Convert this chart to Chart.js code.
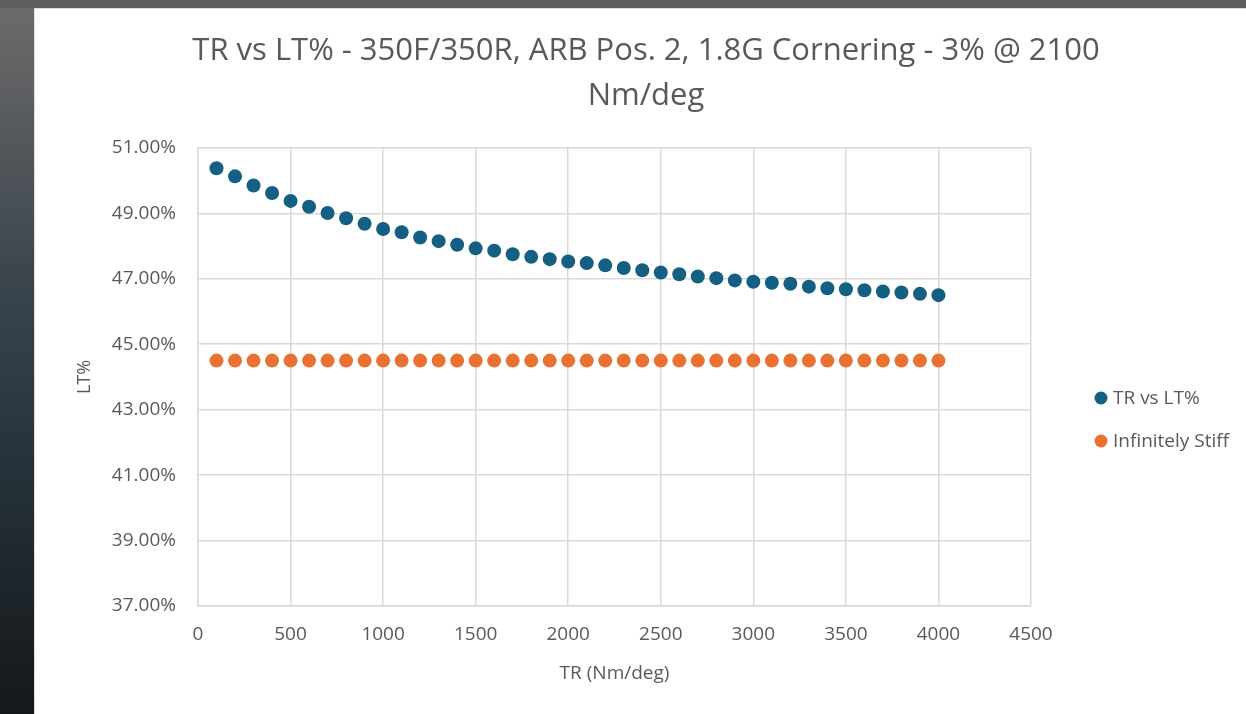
<!DOCTYPE html>
<html>
<head>
<meta charset="utf-8">
<script src="https://cdn.jsdelivr.net/npm/chart.js@4"></script>
<style>
  html, body { margin: 0; padding: 0; }
  body {
    width: 1246px; height: 714px; overflow: hidden; position: relative;
    background: linear-gradient(180deg, #6b6b6b 0%, #5e6062 12%, #3a444c 40%, #26323a 65%, #15181a 100%);
  }
  .topbar { position: absolute; left: 0; top: 0; width: 1246px; height: 8px; background: #5e5e5e; }
  .panel {
    position: absolute; left: 34px; top: 8px; width: 1212px; height: 706px;
    background: #fff; border-top: 1px solid #dcdcdc; border-left: 1px solid #dcdcdc; box-sizing: border-box;
  }
  .panel canvas { position: absolute; left: 0; top: 0; }
</style>
</head>
<body>
<div class="topbar"></div>
<div class="panel"><canvas id="chart" width="1212" height="706"></canvas></div>
<script>
// TR (Nm/deg)
const trValues = [100, 200, 300, 400, 500, 600, 700, 800, 900, 1000,
  1100, 1200, 1300, 1400, 1500, 1600, 1700, 1800, 1900, 2000,
  2100, 2200, 2300, 2400, 2500, 2600, 2700, 2800, 2900, 3000,
  3100, 3200, 3300, 3400, 3500, 3600, 3700, 3800, 3900, 4000];

// LT%
const ltValues = [50.38, 50.13, 49.85, 49.62, 49.38, 49.20, 49.01, 48.85, 48.68, 48.52,
  48.42, 48.26, 48.15, 48.04, 47.93, 47.86, 47.75, 47.67, 47.60, 47.53,
  47.48, 47.41, 47.33, 47.26, 47.19, 47.14, 47.07, 47.02, 46.95, 46.91,
  46.88, 46.85, 46.76, 46.71, 46.68, 46.65, 46.61, 46.58, 46.54, 46.50];

const stiffValues = [44.5, 44.5, 44.5, 44.5, 44.5, 44.5, 44.5, 44.5, 44.5, 44.5,
  44.5, 44.5, 44.5, 44.5, 44.5, 44.5, 44.5, 44.5, 44.5, 44.5,
  44.5, 44.5, 44.5, 44.5, 44.5, 44.5, 44.5, 44.5, 44.5, 44.5,
  44.5, 44.5, 44.5, 44.5, 44.5, 44.5, 44.5, 44.5, 44.5, 44.5];

const seriesNames = ['TR vs LT%', 'Infinitely Stiff'];
const titleLines = ['TR vs LT% - 350F/350R, ARB Pos. 2, 1.8G Cornering - 3% @ 2100', 'Nm/deg'];

const textColor = '#595959';
const gridColor = '#d9d9d9';
const fontFamily = "'Open Sans', 'Liberation Sans', sans-serif";

const toPoints = (ys) => trValues.map((x, i) => ({ x: x, y: ys[i] }));

// simple legend on the right, Excel style
const sideLegend = {
  id: 'sideLegend',
  afterDraw(chart) {
    const ctx = chart.ctx;
    ctx.save();
    ctx.font = '19px ' + fontFamily;
    ctx.textBaseline = 'middle';
    chart.data.datasets.forEach((ds, i) => {
      const y = 389 + i * 43;
      ctx.fillStyle = ds.backgroundColor;
      ctx.beginPath();
      ctx.arc(1066, y, 6.5, 0, Math.PI * 2);
      ctx.fill();
      ctx.fillStyle = textColor;
      ctx.fillText(ds.label, 1078, y + 1);
    });
    ctx.restore();
  }
};

const ctx = document.getElementById('chart').getContext('2d');
new Chart(ctx, {
  type: 'scatter',
  data: {
    datasets: [{
      label: seriesNames[0],
      data: toPoints(ltValues),
      backgroundColor: '#156082',
      borderColor: '#156082',
      pointRadius: 7,
      pointBorderWidth: 0
    }, {
      label: seriesNames[1],
      data: toPoints(stiffValues),
      backgroundColor: '#e97132',
      borderColor: '#e97132',
      pointRadius: 7,
      pointBorderWidth: 0
    }]
  },
  options: {
    responsive: false,
    animation: false,
    layout: { padding: { left: 39, right: 29, top: 0, bottom: 18 } },
    plugins: {
      legend: { display: false },
      tooltip: { enabled: false },
      title: {
        display: true,
        text: titleLines,
        color: textColor,
        font: { family: fontFamily, size: 31, weight: 'normal', lineHeight: 1.45 },
        padding: { top: 20, bottom: 29 }
      }
    },
    scales: {
      x: {
        type: 'linear',
        min: 0, max: 4500,
        ticks: {
          stepSize: 500, color: textColor, font: { family: fontFamily, size: 19 }, padding: 17,
          callback: (v) => String(v)
        },
        grid: { color: gridColor, lineWidth: 1.5, drawTicks: false },
        border: { color: gridColor, width: 1.5 },
        title: { display: true, text: 'TR (Nm/deg)', color: textColor, font: { family: fontFamily, size: 19 }, padding: { top: 4, bottom: 12 } },
        afterFit(scale) { scale.height = 91; }
      },
      y: {
        min: 37, max: 51,
        ticks: {
          stepSize: 2, color: textColor, font: { family: fontFamily, size: 19 }, padding: 22,
          callback: (v) => v.toFixed(2) + '%'
        },
        grid: { color: gridColor, lineWidth: 1.5, drawTicks: false },
        border: { color: gridColor, width: 1.5 },
        title: { display: true, text: 'LT%', color: textColor, font: { family: fontFamily, size: 18 }, padding: 0 },
        afterFit(scale) { scale.width = 124; }
      },
      // empty right axis that only reserves room for the legend
      yRight: {
        position: 'right',
        display: true,
        grid: { display: false },
        border: { display: false },
        ticks: { display: false },
        afterFit(scale) { scale.width = 187; }
      }
    }
  },
  plugins: [sideLegend]
});
</script>
</body>
</html>
